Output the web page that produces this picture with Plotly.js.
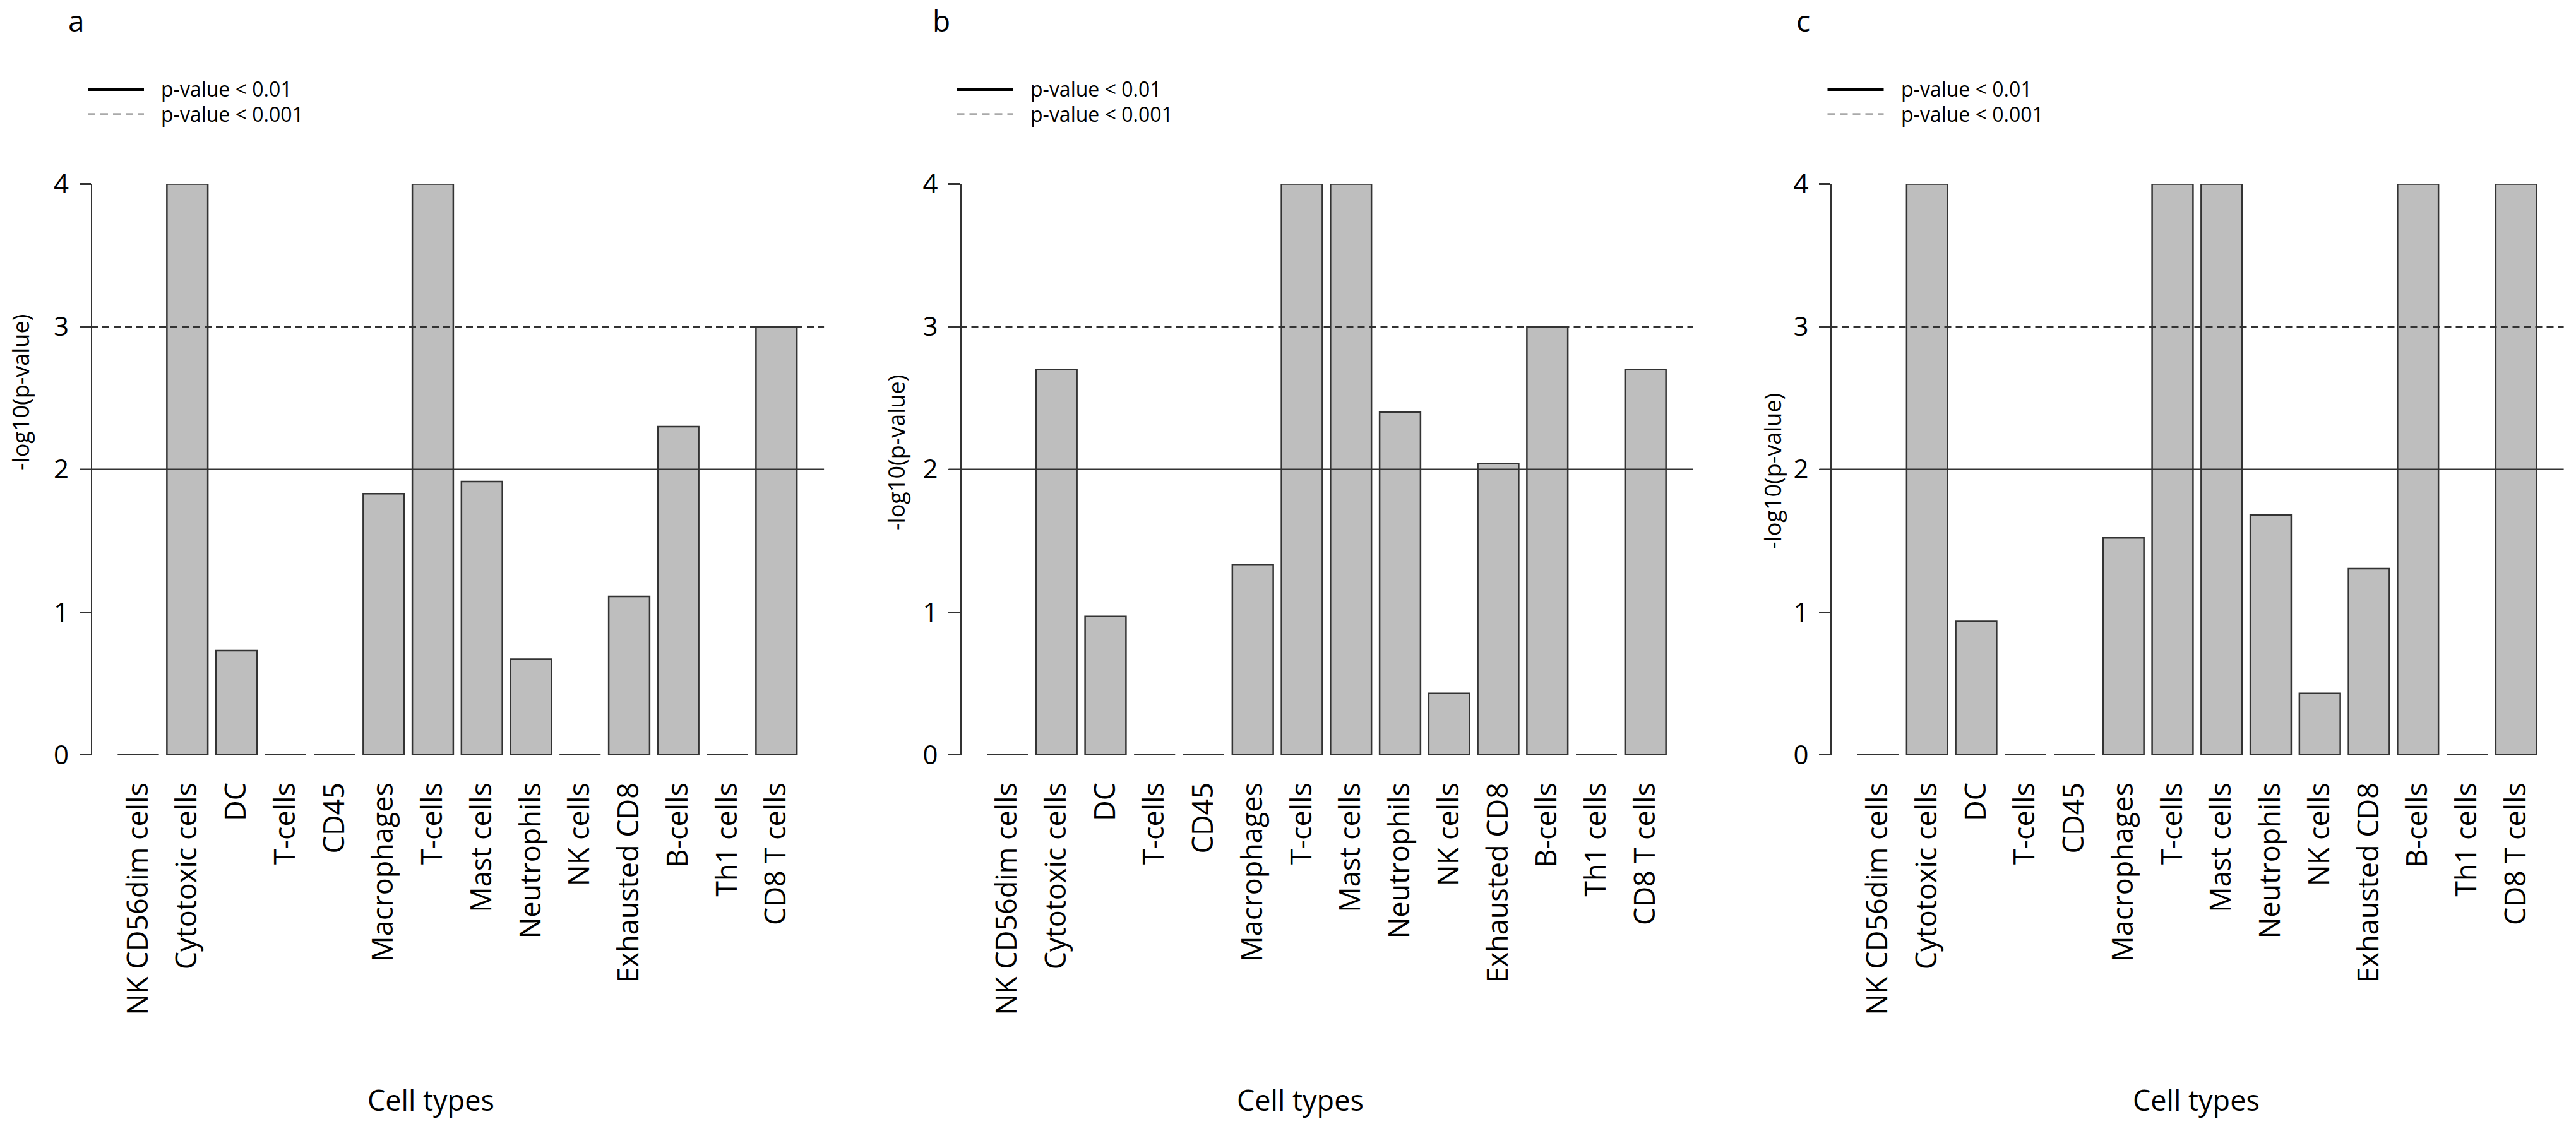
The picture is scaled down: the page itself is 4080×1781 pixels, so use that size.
<!DOCTYPE html>
<html>
<head>
<meta charset="utf-8">
<script src="https://cdn.plot.ly/plotly-3.0.1.min.js"></script>
<style>
  body { margin: 0; background: #fff; }
  #chart { width: 4080px; height: 1781px; }
</style>
</head>
<body>
<div id="chart"></div>
<script>
// cell types on the x axis, same order in every panel
const categories = ["NK CD56dim cells", "Cytotoxic cells", "DC", "T-cells", "CD45", "Macrophages",
    "T-cells", "Mast cells", "Neutrophils", "NK cells", "Exhausted CD8", "B-cells", "Th1 cells", "CD8 T cells"];

// -log10(p-value) per panel (capped at 4)
const valuesA = [0, 4, 0.73, 0, 0, 1.83, 4, 1.915, 0.67, 0, 1.11, 2.30, 0, 3.0];
const valuesB = [0, 2.70, 0.97, 0, 0, 1.33, 4, 4, 2.40, 0.43, 2.04, 3.0, 0, 2.70];
const valuesC = [0, 4, 0.935, 0, 0, 1.52, 4, 4, 1.68, 0.43, 1.305, 4, 0, 4];

const panelLetters = ["a", "b", "c"];
const yTicks = [0, 1, 2, 3, 4];
const cutoffs = [2, 3];
const cutoffLabels = ["p-value < 0.01", "p-value < 0.001"];
const xTitle = "Cell types";
const yTitle = "-log10(p-value)";

const W = 4080, H = 1781;
const px = v => v / W;
const py = v => 1 - v / H;
const FONT = "Open Sans, Noto Sans, sans-serif";
const EDGE = "#333333";

// pixel placement of each panel (axis line x, labels)
const panels = [
    {values: valuesA, axisX: 144.5, letterX: 121, yTitlePos: [32, 622], xTitleX: 682},
    {values: valuesB, axisX: 1521, letterX: 1491, yTitlePos: [1419, 718], xTitleX: 2059},
    {values: valuesC, axisX: 2900, letterX: 2856, yTitlePos: [2807, 747], xTitleX: 3478}
];

const barGap = 1 / 6;
let data = [];
let layout = {
    width: W,
    height: H,
    margin: {t: 0, b: 0, l: 0, r: 0},
    paper_bgcolor: "#ffffff",
    plot_bgcolor: "rgba(0,0,0,0)",
    showlegend: false,
    bargap: barGap,
    shapes: [],
    annotations: []
};

let idx = categories.map((c, i) => i);

panels.forEach((p, k) => {
    let sfx = k === 0 ? "" : String(k + 1);
    let xa = "x" + sfx, ya = "y" + sfx;

    data.push({
        type: "bar",
        x: idx,
        y: p.values,
        xaxis: xa,
        yaxis: ya,
        marker: {color: "#bebebe", line: {color: EDGE, width: 2.5}},
        cliponaxis: false,
        hoverinfo: "none"
    });

    // zero-height bars still show their bottom edge, like R's barplot
    let zx = [], zy = [];
    let half = (1 - barGap) / 2;
    p.values.forEach((v, i) => {
        if (v === 0) {
            zx.push(i - half, i + half, null);
            zy.push(0, 0, null);
        }
    });
    data.push({
        type: "scatter",
        mode: "lines",
        x: zx,
        y: zy,
        xaxis: xa,
        yaxis: ya,
        line: {color: EDGE, width: 2.5},
        cliponaxis: false,
        hoverinfo: "none"
    });

    layout["xaxis" + sfx] = {
        domain: [px(p.axisX - 18.5), px(p.axisX + 1160.6)],
        range: [-1.196, 13.969],
        anchor: ya,
        tickmode: "array",
        tickvals: idx,
        ticktext: categories,
        tickangle: -90,
        tickfont: {family: FONT, size: 45, color: "#000"},
        ticks: "",
        ticklabelstandoff: 34,
        showline: false,
        showgrid: false,
        zeroline: false,
        fixedrange: true
    };
    layout["yaxis" + sfx] = {
        domain: [py(1196), py(291.5)],
        range: [0, 4],
        anchor: "free",
        position: px(p.axisX),
        tickmode: "array",
        tickvals: yTicks,
        ticks: "outside",
        ticklen: 18,
        tickwidth: 2.5,
        tickcolor: EDGE,
        tickfont: {family: FONT, size: 42, color: "#000"},
        ticklabelstandoff: 8,
        showline: true,
        linecolor: EDGE,
        linewidth: 2.5,
        showgrid: false,
        zeroline: false,
        fixedrange: true
    };

    // cutoff lines across the plot region
    cutoffs.forEach((c, j) => {
        layout.shapes.push({
            type: "line",
            xref: xa + " domain", yref: ya,
            x0: 0, x1: 1, y0: c, y1: c,
            line: {color: EDGE, width: 2.5, dash: j === 0 ? "solid" : "11px,7px"},
            layer: "above"
        });
    });

    // hand-drawn legend, as in the original
    let o = p.axisX - 144.5;
    let legendY = [142, 181];
    cutoffLabels.forEach((lab, j) => {
        layout.shapes.push({
            type: "line",
            xref: "paper", yref: "paper",
            x0: px(o + 139), x1: px(o + 228),
            y0: py(legendY[j]), y1: py(legendY[j]),
            line: j === 0 ? {color: "#000", width: 4} : {color: "#aaaaaa", width: 3.5, dash: "12px,8px"}
        });
        layout.annotations.push({
            xref: "paper", yref: "paper",
            x: px(o + 253), y: py(legendY[j] - 1),
            xanchor: "left", yanchor: "middle",
            text: lab, showarrow: false,
            font: {family: FONT, size: 32, color: "#000"}
        });
    });

    layout.annotations.push({
        xref: "paper", yref: "paper",
        x: px(p.letterX), y: py(32),
        xanchor: "center", yanchor: "middle",
        text: panelLetters[k], showarrow: false,
        font: {family: FONT, size: 46, color: "#000"}
    });
    layout.annotations.push({
        xref: "paper", yref: "paper",
        x: px(p.yTitlePos[0]), y: py(p.yTitlePos[1]),
        xanchor: "center", yanchor: "middle",
        text: yTitle, textangle: -90, showarrow: false,
        font: {family: FONT, size: 36, color: "#000"}
    });
    layout.annotations.push({
        xref: "paper", yref: "paper",
        x: px(p.xTitleX), y: py(1742),
        xanchor: "center", yanchor: "middle",
        text: xTitle, showarrow: false,
        font: {family: FONT, size: 45, color: "#000"}
    });
});

Plotly.newPlot("chart", data, layout, {staticPlot: true});
</script>
</body>
</html>
